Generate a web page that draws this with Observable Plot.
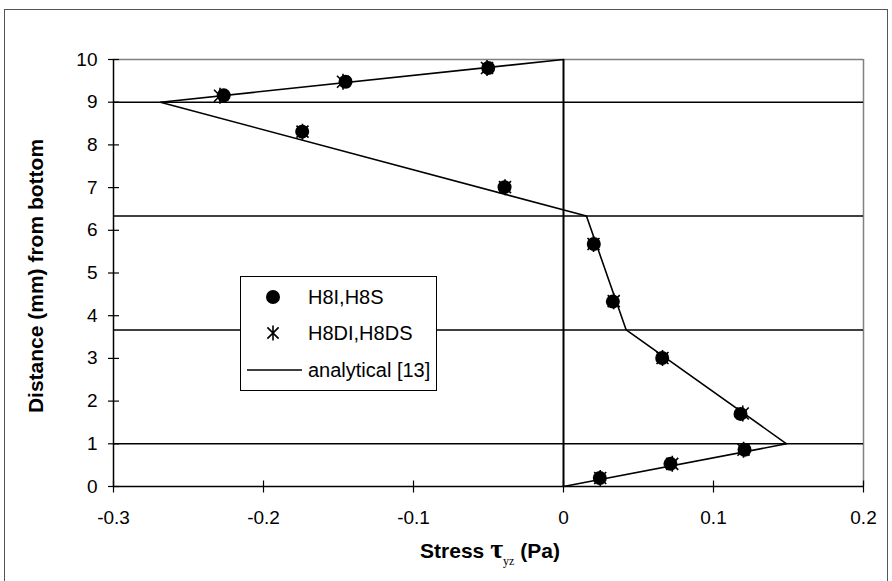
<!DOCTYPE html>
<html>
<head>
<meta charset="utf-8">
<script src="https://cdn.jsdelivr.net/npm/d3@7"></script>
<script src="https://cdn.jsdelivr.net/npm/@observablehq/plot@0.6"></script>
<style>
  html, body { margin: 0; padding: 0; background: #fff; }
  #chart { position: relative; width: 892px; height: 581px; overflow: hidden; }
</style>
</head>
<body>
<div id="chart"></div>
<script>
// ---- data ----
const xTicks = [-0.3, -0.2, -0.1, 0, 0.1, 0.2];
const yTicks = [0, 1, 2, 3, 4, 5, 6, 7, 8, 9, 10];
const layerInterfaces = [1, 3.667, 6.333, 9];

// H8I,H8S (filled circles)
const h8Stress = [-0.0502, -0.1453, -0.2265, -0.1742, -0.0393, 0.0202, 0.0329, 0.0658, 0.1180, 0.1207, 0.0713, 0.0242];
const h8Dist   = [9.80, 9.48, 9.16, 8.31, 7.01, 5.68, 4.33, 3.01, 1.70, 0.86, 0.53, 0.20];

// H8DI,H8DS (asterisks)
const h8dStress = [-0.0510, -0.1470, -0.2290, -0.1740, -0.0390, 0.0200, 0.0335, 0.0660, 0.1195, 0.1200, 0.0725, 0.0245];
const h8dDist   = [9.80, 9.48, 9.15, 8.31, 7.01, 5.68, 4.34, 3.01, 1.71, 0.86, 0.53, 0.20];

// analytical [13]
const anaStress = [0, 0.1487, 0.0418, 0.0153, -0.2687, 0];
const anaDist   = [0, 1, 3.667, 6.333, 9, 10];

const legendLabels = ["H8I,H8S", "H8DI,H8DS", "analytical [13]"];

// ---- build tables ----
const h8 = h8Stress.map((s, i) => ({stress: s, dist: h8Dist[i]}));
const h8d = h8dStress.map((s, i) => ({stress: s, dist: h8dDist[i]}));
const ana = anaStress.map((s, i) => ({stress: s, dist: anaDist[i]}));

// custom symbols
const asteriskSym = {
  draw(ctx, size) {
    const r = Math.sqrt(size / Math.PI);
    const d = r * 0.75;
    ctx.moveTo(0, -r); ctx.lineTo(0, r);
    ctx.moveTo(-d, -d); ctx.lineTo(d, d);
    ctx.moveTo(-d, d); ctx.lineTo(d, -d);
  }
};
const hTick = { draw(ctx, size) { const r = Math.sqrt(size / Math.PI); ctx.moveTo(-r, 0); ctx.lineTo(r, 0); } };
const vTick = { draw(ctx, size) { const r = Math.sqrt(size / Math.PI); ctx.moveTo(0, -r); ctx.lineTo(0, r); } };

const xMin = xTicks[0], xMax = xTicks[xTicks.length - 1];
const yMin = yTicks[0], yMax = yTicks[yTicks.length - 1];
const FONT = "'Liberation Sans', Arial, Helvetica, sans-serif";

const plot = Plot.plot({
  width: 892,
  height: 581,
  marginLeft: 113,
  marginRight: 29,
  marginTop: 59,
  marginBottom: 95,
  style: {fontFamily: FONT, color: "#000", background: "transparent", overflow: "visible"},
  x: {domain: [xMin, xMax]},
  y: {domain: [yMin, yMax]},
  marks: [
    // plot area border (top/right gray)
    Plot.ruleY([yMax], {stroke: "#808080", strokeWidth: 1.5}),
    Plot.ruleX([xMax], {stroke: "#808080", strokeWidth: 1.5}),
    // layer interfaces
    Plot.ruleY(layerInterfaces, {stroke: "#000", strokeWidth: 1.5}),
    Plot.ruleY([yMin], {stroke: "#000", strokeWidth: 1.5}),
    // axes lines
    Plot.ruleX([xMin], {stroke: "#000", strokeWidth: 1.5}),
    Plot.ruleX([0], {stroke: "#000", strokeWidth: 2}),
    // crossing tick marks
    Plot.dot(yTicks, {x: () => xMin, y: d => d, symbol: hTick, r: 5.5, stroke: "#000", strokeWidth: 1.2}),
    Plot.dot(xTicks, {x: d => d, y: () => yMin, symbol: vTick, r: 6, stroke: "#000", strokeWidth: 1.2}),
    // analytical line
    Plot.line(ana, {x: "stress", y: "dist", stroke: "#000", strokeWidth: 1.6}),
    // FE results
    Plot.dot(h8d, {x: "stress", y: "dist", symbol: asteriskSym, r: 8, stroke: "#000", strokeWidth: 1.6}),
    Plot.dot(h8, {x: "stress", y: "dist", r: 7, fill: "#000", stroke: "none"}),
    // tick labels
    Plot.axisX(xTicks, {tickSize: 0, tickPadding: 24, fontSize: 19, tickFormat: d => String(d), label: null}),
    Plot.axisY(yTicks, {tickSize: 0, tickPadding: 16, fontSize: 19, tickFormat: d => String(d), label: null})
  ]
});

document.getElementById("chart").appendChild(plot);

const svg = d3.select(plot);

// outer chart border
svg.insert("rect", ":first-child")
  .attr("x", 4.5).attr("y", 9.5).attr("width", 883).attr("height", 600)
  .attr("fill", "#fff").attr("stroke", "#555").attr("stroke-width", 1);

// y axis title
svg.append("text")
  .attr("transform", "translate(43,276) rotate(-90)")
  .attr("text-anchor", "middle")
  .attr("font-family", FONT)
  .attr("font-weight", "bold")
  .attr("font-size", 21)
  .attr("fill", "#000")
  .text("Distance (mm) from bottom");

// x axis title
const xt = svg.append("text")
  .attr("x", 490).attr("y", 558)
  .attr("text-anchor", "middle")
  .attr("font-family", FONT)
  .attr("font-weight", "bold")
  .attr("font-size", 21)
  .attr("fill", "#000");
xt.append("tspan").text("Stress ");
xt.append("tspan").attr("font-family", "'Liberation Serif', 'DejaVu Serif', serif").attr("font-size", 28).attr("font-weight", "bold").text("τ");
xt.append("tspan").attr("font-family", "'Liberation Serif', serif").attr("font-size", 12).attr("font-weight", "normal").attr("dy", 7).text("yz");
xt.append("tspan").attr("dy", -7).text(" (Pa)");

// legend
const lg = svg.append("g").attr("text-anchor", "start");
lg.append("rect").attr("x", 240.5).attr("y", 276.5).attr("width", 196).attr("height", 114)
  .attr("fill", "#fff").attr("stroke", "#000").attr("stroke-width", 1);
const rowsY = [297, 333, 370];
lg.append("circle").attr("cx", 273).attr("cy", rowsY[0]).attr("r", 7).attr("fill", "#000");
lg.append("path").attr("transform", `translate(273,${rowsY[1]})`)
  .attr("d", d3.symbol(asteriskSym, Math.PI * 7.5 * 7.5)())
  .attr("stroke", "#000").attr("stroke-width", 1.6).attr("fill", "none");
lg.append("line").attr("x1", 247).attr("x2", 302).attr("y1", rowsY[2]).attr("y2", rowsY[2])
  .attr("stroke", "#000").attr("stroke-width", 1.6);
legendLabels.forEach((t, i) => {
  lg.append("text").attr("x", 308).attr("y", rowsY[i]).attr("dy", "0.35em")
    .attr("text-anchor", "start")
    .attr("font-family", FONT).attr("font-size", 20).attr("fill", "#000").text(t);
});
</script>
</body>
</html>
